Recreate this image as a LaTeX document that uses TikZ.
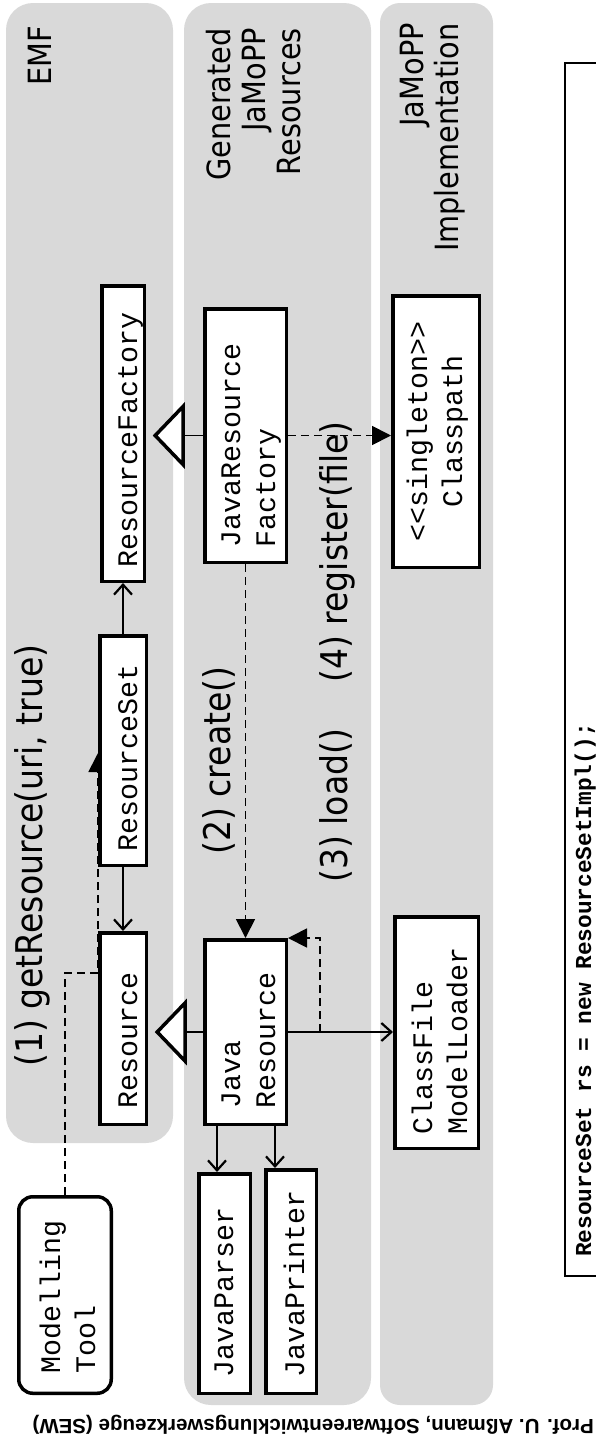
\documentclass[tikz,border=0pt]{standalone}
\usepackage{fontspec}
\usetikzlibrary{arrows.meta}
\newfontfamily\lanefont[FakeStretch=0.9]{DejaVu Sans}
\newfontfamily\boxfont{Liberation Mono}
\newfontfamily\footfont{Liberation Sans}
\definecolor{lanegray}{HTML}{D9D9D9}
\pgfdeclarelayer{lanes}
\pgfdeclarelayer{conn}
\pgfsetlayers{lanes,conn,main}
\tikzset{
  box/.style={rotate=90, draw, line width=3.5pt, fill=white, inner ysep=0pt, align=left,
    font=\boxfont\fontsize{28.3}{35}\selectfont},
  conn/.style={line width=1.8pt},
  dsh/.style={conn, dash pattern=on 8pt off 5pt},
  assoc/.style={conn, -{Straight Barb[length=10pt,width=18pt,line width=2.2pt]}},
  call/.style={dsh, -{Triangle[length=19pt,width=19pt]}},
  gen/.style={conn, -{Triangle[length=32pt,width=66pt,line width=3.5pt,fill=white]}, shorten >=6.75pt},
  lanelabel/.style={rotate=90, inner sep=0pt, align=right, anchor=north east,
    font=\lanefont\fontsize{32}{35}\selectfont},
  msg/.style={rotate=90, inner sep=0pt, anchor=base west,
    font=\lanefont\fontsize{36.8}{44}\selectfont},
  lane/.style={fill=lanegray}
}
\begin{document}
\begin{tikzpicture}[x=1pt,y=-1pt]
\useasboundingbox (0,0) rectangle (596,1446);
\clip (0,0) rectangle (596,1446);
\begin{pgfonlayer}{lanes}
  \fill[white] (0,0) rectangle (596,1446);
  \fill[lane, rounded corners=27pt] (6,3) rectangle (173,1143);
  \fill[lane, rounded corners=27pt] (184,3) rectangle (371,1405);
  \fill[lane, rounded corners=20pt] (380,3) rectangle (493,1405);
\end{pgfonlayer}

% lane labels
\node[lanelabel] (lemf) at (28,26) {EMF};
\node[lanelabel] (lgen) at (206,28) {Generated\\JaMoPP\\Resources};
\node[lanelabel] (limpl) at (400,23) {JaMoPP\\Implementation};

% boxes
\node[box, minimum height=42.5pt, text width=267.5pt, inner xsep=14pt, text height=28pt, text depth=0pt] (rf) at (123,433.5) {ResourceFactory};
\node[box, minimum height=46.5pt, text width=202.5pt, inner xsep=13.5pt, text height=28pt, text depth=0pt] (rs) at (123,750.5) {ResourceSet};
\node[box, minimum height=46.5pt, text width=159.5pt, inner xsep=16pt, text height=28pt, text depth=0pt] (res) at (123,1028.5) {Resource};
\node[box, minimum height=81.5pt, text width=223.5pt, inner xsep=15pt, text height=17pt, text depth=28pt] (jrf) at (245.5,435.5) {JavaResource\\Factory};
\node[box, minimum height=81.5pt, text width=152.5pt, inner xsep=16pt, text height=17pt, text depth=28pt] (jr) at (245.5,1032) {Java\\Resource};
\node[box, minimum height=51.5pt, text width=187.5pt, inner xsep=16pt, text height=17pt, text depth=0pt] (jp) at (224.5,1283.5) {JavaParser};
\node[box, minimum height=50.5pt, text width=191.5pt, inner xsep=16pt, text height=26pt, text depth=0pt] (jpr) at (291,1281.5) {JavaPrinter};
\node[box, align=center, minimum height=86.5pt, text width=251.5pt, inner xsep=10pt, text height=17pt, text depth=35pt] (cp) at (436,431.5) {<\kern0pt<singleton>\kern0pt>\\Classpath};
\node[box, minimum height=83.5pt, text width=203.5pt, inner xsep=14pt, text height=17pt, text depth=26pt] (cfml) at (436.5,1032.5) {ClassFile\\ModelLoader};
\node[box, rounded corners=14pt, minimum height=92.5pt, text width=156.5pt, inner xsep=20pt, text height=17pt, text depth=27pt] (mt) at (65,1295) {Modelling\\Tool};

% message labels
\node[msg] (m1) at (42,1067) {(1) getResource(uri, true)};
\node[msg] (m2) at (230,855) {(2) create()};
\node[msg] (m3) at (347,883) {(3) load()};
\node[msg] (m4) at (347,683) {(4) register(file)};

% code
\draw[line width=1.5pt] (600,63) -| (565,1276) -- (600,1276);
\node[rotate=90, inner sep=0pt, anchor=base west, font=\boxfont\bfseries\fontsize{22.8}{26}\selectfont] (code) at (591,1257) {ResourceSet rs = new ResourceSetImpl();};

% footer
\node[rotate=180, inner sep=0pt, anchor=base west, font=\footfont\bfseries\fontsize{20.5}{24}\selectfont] (foot) at (594,1419) {Prof. U. Aßmann, Softwareentwicklungswerkzeuge (SEW)};

\begin{pgfonlayer}{conn}
  \draw[gen] (jrf.north) -- (jrf.north -| rf.south);
  \draw[gen] (jr.north) -- (jr.north -| res.south);
  \draw[assoc] (rs.east) -- (rf.west);
  \draw[assoc] (rs.west) -- (res.east);
  \draw[assoc] ([xshift=-28.5pt]jr.west) -- ([xshift=-28.5pt]jr.west |- jp.east);
  \draw[assoc] ([xshift=29.5pt]jr.west) -- ([xshift=29.5pt]jr.west |- jpr.east);
  \draw[assoc] (jr.south) -- (jr.south -| cfml.north);
  \draw[call] (jrf.west) -- (jr.east);
  \draw[call] (jrf.south) -- (jrf.south -| cp.north);
  \draw[call] ([xshift=32pt]jr.south) |- (jr.south east);
  \draw[call] (mt.east) |- ([yshift=55.5pt]res.north) -- ([yshift=-2.5pt]rs.north);
\end{pgfonlayer}
\end{tikzpicture}
\end{document}
